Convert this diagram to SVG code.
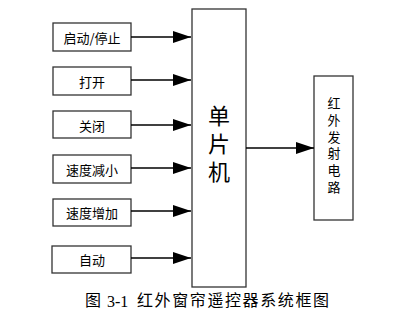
<svg xmlns="http://www.w3.org/2000/svg" width="406" height="313" viewBox="0 0 406 313">
<defs>
<marker id="ah" markerWidth="18" markerHeight="12" refX="18" refY="6" orient="auto" markerUnits="userSpaceOnUse">
<path d="M0,0 L18,6 L0,12 Z" fill="#000"/>
</marker>
<style>
.box{fill:#fff;stroke:#333;stroke-width:1.3}
.lbl{font-family:"Noto Sans CJK SC","Microsoft YaHei",sans-serif;font-size:13px;fill:#000;text-anchor:middle;dominant-baseline:central}
.vert{font-family:"Noto Sans CJK SC",sans-serif;fill:#000;writing-mode:vertical-rl;text-anchor:middle}
.conn line{stroke:#000;stroke-width:1.3;marker-end:url(#ah)}
.cap{font-family:"Noto Sans CJK SC",sans-serif;font-size:16px;fill:#000}
</style>
</defs>
<rect width="406" height="313" fill="#fff"/>
<g id="n1"><rect class="box" x="53" y="23" width="78" height="28"/><text class="lbl" x="92" y="37">启动/停止</text></g>
<g id="n2"><rect class="box" x="53" y="67" width="78" height="28"/><text class="lbl" x="92" y="81">打开</text></g>
<g id="n3"><rect class="box" x="53" y="111" width="78" height="27"/><text class="lbl" x="92" y="125">关闭</text></g>
<g id="n4"><rect class="box" x="53" y="155" width="78" height="28"/><text class="lbl" x="92" y="169">速度减小</text></g>
<g id="n5"><rect class="box" x="53" y="199" width="78" height="27"/><text class="lbl" x="92" y="212">速度增加</text></g>
<g id="n6"><rect class="box" x="52" y="246" width="79" height="27"/><text class="lbl" x="92" y="259">自动</text></g>
<g id="mcu"><rect class="box" x="192" y="9" width="54" height="278"/>
<text class="vert" x="219" y="147" style="font-size:22px;letter-spacing:6px">单片机</text></g>
<g id="ir"><rect class="box" x="314" y="76" width="39" height="144"/>
<text class="vert" x="334" y="147" style="font-size:13px;letter-spacing:3.8px">红外发射电路</text></g>
<g class="conn" id="connectors">
<line x1="131" y1="37" x2="191" y2="37"/>
<line x1="131" y1="80" x2="191" y2="80"/>
<line x1="131" y1="125" x2="191" y2="125"/>
<line x1="131" y1="168" x2="191" y2="168"/>
<line x1="131" y1="211" x2="191" y2="211"/>
<line x1="131" y1="258" x2="191" y2="258"/>
<line x1="246" y1="148" x2="314" y2="148"/>
</g>
<text class="cap" x="85" y="306">图</text>
<text x="107" y="307" style="font-family:'Liberation Serif',serif;font-size:16px;fill:#000">3-1</text>
<text class="cap" x="137" y="306" textLength="192" lengthAdjust="spacing">红外窗帘遥控器系统框图</text>
</svg>
